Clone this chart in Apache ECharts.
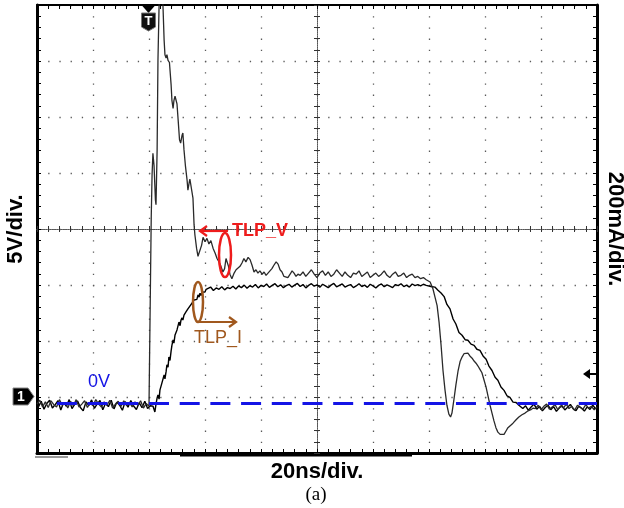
<!DOCTYPE html>
<html><head><meta charset="utf-8">
<script src="https://cdn.jsdelivr.net/npm/echarts@6/dist/echarts.min.js"></script>
<style>html,body{margin:0;padding:0;background:#fff}#c{width:624px;height:508px}</style>
</head><body><div id="c"></div>
<script>
// ---- axis settings (oscilloscope: 20 ns/div, 5 V/div, 200 mA/div, 10 x 8 divisions) ----
const timeMin = -40, timeMax = 160, timeStep = 20;          // ns
const voltMin = -4.464, voltMax = 35.536;                     // V  (8 div x 5 V)
const currMin = -178.6, currMax = 1421.4;                     // mA (8 div x 200 mA)
const xTitle = '20ns/div.', yLeftTitle = '5V/div.', yRightTitle = '200mA/div.';

// ---- voltage trace (TLP_V), V ----
const voltBaseline = [-0.1,0.25,-0.35,0.1,-0.4,0.2,-0.15,-0.35,0.3,-0.2,0.05,-0.45,0.15,-0.25,0.3,-0.35,-0.1,0.2,-0.4,0.0,-0.25,0.3,-0.1,-0.35,0.1,-0.2,0.25,-0.45,-0.1,0.15,-0.3,0.2,-0.25,0.05,-0.35,0.1,-0.2,0.2,-0.45,-0.05,-0.3]; // t=-40..0
const voltPulse = [[0.6,-0.2],[0.8,16.6],[1.1,20.4],[1.4,22.3],[1.8,21.2],[2.3,18.1],[2.5,17.7],[2.9,22.6],[3.2,30.6],[3.6,35.5],[4.1,39.6],[4.6,38.7],[5.0,35.4],[5.4,32.4],[5.7,31.1],[6.1,30.8],[6.4,31.1],[6.8,30.6],[7.3,30.4],[7.9,28.4],[8.2,27.0],[8.6,26.3],[8.9,27.0],[9.3,27.4],[9.6,27.1],[10.0,26.7],[10.4,25.3],[10.9,23.5],[11.3,23.2],[11.8,23.9],[12.1,24.1],[12.5,22.6],[13.0,21.2],[13.6,19.9],[13.9,19.0],[14.3,19.6],[14.6,20.0],[15.2,19.9],[15.7,18.3],[16.1,15.9],[16.4,15.0],[17.0,13.8],[17.5,13.1],[18.2,13.1],[18.8,14.1],[19.3,14.8],[20.0,14.4],[20.7,14.7],[21.4,14.2],[22.1,14.5],[22.9,13.8],[23.6,13.4],[24.3,12.9],[25.0,12.6],[25.7,12.2],[26.4,11.7],[27.0,12.0],[27.5,12.9],[27.9,13.0],[28.4,12.2],[28.9,11.5],[29.6,11.1],[30.4,11.6],[31.1,11.9],[31.8,12.0],[32.5,12.2],[33.2,12.5],[33.9,12.9],[34.6,12.6],[35.4,13.0],[36.1,12.8],[36.8,12.3],[37.5,11.7],[38.2,11.9],[38.9,11.6],[39.6,11.8],[40.4,11.5],[41.1,11.7],[41.8,11.4],[42.5,11.6],[43.2,11.8],[43.9,12.0],[44.6,12.3],[45.4,12.6],[46.1,12.4],[46.8,11.9],[47.5,11.7],[48.2,11.3],[48.9,11.4],[49.6,11.2],[50.4,11.5],[51.1,11.8],[51.8,11.6],[52.5,11.3],[53.2,11.5]];
const voltPlateau = [11.4,11.7,11.3,11.6,11.9,11.5,11.2,11.6,11.8,11.4,11.7,11.3,11.5,11.9,11.6,11.3,11.7,11.4,11.2,11.6,11.5,11.8,11.3,11.5,11.7,11.2,11.4,11.6,11.3,11.5,11.8,11.4,11.2,11.5,11.7,11.3,11.4,11.6,11.2,11.4,11.5,11.2,11.3,11.1,11.2,11.0]; // t=54..99
const voltFall = [[99.6,10.9],[100.4,10.8],[101.4,10.2],[102.1,9.5],[102.9,8.7],[103.6,7.2],[104.3,5.2],[105.0,2.9],[105.7,1.2],[106.4,-0.2],[107.1,-1.0],[107.7,-1.25],[108.2,-0.9],[108.9,0.3],[109.6,1.6],[110.4,2.9],[111.1,3.7],[111.8,4.1],[112.5,4.4],[113.2,4.55],[113.9,4.45],[114.6,4.2],[115.4,4.0],[116.1,3.75],[116.8,3.55],[117.5,3.3],[118.2,3.0],[118.9,2.7],[119.6,2.1],[120.4,1.4],[121.1,0.6],[121.8,-0.2],[122.5,-0.9],[123.2,-1.6],[123.9,-2.2],[124.6,-2.6],[125.4,-2.8],[126.1,-2.7],[126.8,-2.8],[127.5,-2.5],[128.2,-2.2],[128.9,-2.05],[130.0,-1.8],[131.1,-1.5],[132.1,-1.25],[133.2,-1.05],[134.3,-0.9],[135.4,-0.7],[136.4,-0.6],[137.2,-0.45]];
const voltTail = [-0.5,-0.2,-0.6,-0.3,-0.1,-0.55,-0.35,-0.15,-0.6,-0.25,-0.45,-0.1,-0.5,-0.3,-0.65,-0.2,-0.4,-0.55,-0.15,-0.45,-0.3,-0.6,-0.35]; // t=138..160

// ---- current trace (TLP_I), mA ----
const currBaseline = [-14,6,-22,-2,10,-18,-6,8,-25,2,-12,12,-20,-4,7,-16,-28,4,-9,11,-19,-3,9,-24,-1,-13,10,-21,3,-8,-26,5,-15,9,-11,-23,1,-17,6,-20,-10]; // t=-39.5..0.5
const currRise = [[1.4,-11],[2.1,-32],[2.5,-4],[2.9,18],[3.2,29],[3.6,14],[3.9,46],[4.3,52],[4.6,71],[5.0,64],[5.4,100],[5.7,86],[6.1,112],[6.4,136],[6.8,128],[7.1,164],[7.5,152],[7.9,186],[8.2,207],[8.6,225],[8.9,214],[9.3,243],[9.6,236],[10.0,261],[10.4,268],[10.7,289],[11.1,276],[11.4,295],[11.8,304],[12.1,296],[12.5,314],[12.9,308],[13.2,325],[13.6,320],[13.9,336],[14.3,330],[14.6,346],[15.0,341],[15.4,357],[15.7,352],[16.1,368],[16.4,361],[16.8,375],[17.1,370],[17.5,386],[17.9,378],[18.2,392],[18.6,384],[18.9,397],[19.3,392],[19.6,404],[20.0,396],[20.4,406]];
const currPlateau = [408,414,402,411,406,415,404,412,409,417,407,418,412,421,410,419,414,423,411,420,416,425,413,420,426,415,422,412,419,424,414,421,427,416,423,411,420,426,417,422,413,424,418,412,421,427,415,420,425,414,419,423,412,418,426,416,421,413,424,418,411,420,425,415,422,417,412,423,419,426,416,421,414,425,419,423,418,424,420]; // t=21..99
const currFall = [[99.6,423],[100.7,416],[102.1,414],[103.2,403],[104.3,393],[105.4,380],[106.4,352],[107.5,336],[108.6,300],[109.6,282],[110.7,252],[111.8,242],[112.9,226],[113.9,224],[115.0,210],[116.1,206],[117.1,192],[118.2,188],[119.3,168],[120.4,156],[121.4,132],[122.5,116],[123.6,92],[124.6,81],[125.7,57],[126.8,45],[127.9,25],[128.9,20],[130.0,3],[131.1,2],[132.1,-8]];
const currTail = [-6,-20,-10,-26,-14,-4,-22,-12,-28,-16,-8,-24,-13,-30,-18,-9,-25,-15,-5,-21,-27,-11,-19,-29,-14,-23,-8,-20]; // t=132.5..159.5

// ---- assemble [t, value] pairs ----
const voltageTrace = [].concat(
  voltBaseline.map((v, i) => [timeMin + i, v]),
  voltPulse,
  voltPlateau.map((v, i) => [54 + i, v]),
  voltFall,
  voltTail.map((v, i) => [138 + i, v])
);
const currentTrace = [].concat(
  currBaseline.map((v, i) => [timeMin + 0.5 + i, v]),
  currRise,
  currPlateau.map((v, i) => [21 + i, v]),
  currFall,
  currTail.map((v, i) => [132.5 + i, v])
);

const FONT = 'Liberation Sans';
const dotted = {color: '#5a5a5a', width: 1.3, type: [1.3, 9.9]};
const borderTick = {show: true, inside: true, length: 4, lineStyle: {color: '#000', width: 1}};
const borderMinor = {show: true, splitNumber: 5, length: 4, lineStyle: {color: '#000', width: 1}};
const centreLine = {show: true, onZero: false, lineStyle: {color: '#555', width: 1, type: [1, 1.2]}};
const centreTick = {show: true, inside: true, length: 3, lineStyle: {color: '#333', width: 1}};
const centreMinor = {show: true, splitNumber: 5, length: 3, lineStyle: {color: '#333', width: 1}};
const nameStyle = {fontFamily: FONT, fontWeight: 'bold', fontSize: 22, color: '#000'};

const chart = echarts.init(document.getElementById('c'), null, {renderer: 'canvas'});
chart.setOption({
  animation: false,
  backgroundColor: '#fff',
  grid: [
    {left: 37, top: 5, width: 560, height: 448, outerBoundsMode: 'none', containLabel: false},
    {left: 37, top: 5, width: 560, height: 224, outerBoundsMode: 'none', containLabel: false},
    {left: 37, top: 229, width: 560, height: 224, outerBoundsMode: 'none', containLabel: false},
    {left: 37, top: 5, width: 280, height: 448, outerBoundsMode: 'none', containLabel: false},
    {left: 317, top: 5, width: 280, height: 448, outerBoundsMode: 'none', containLabel: false}
  ],
  xAxis: [
    {gridIndex: 0, type: 'value', position: 'bottom', min: timeMin, max: timeMax, interval: timeStep,
     axisLine: {show: true, onZero: false, lineStyle: {color: '#000', width: 3}},
     axisTick: borderTick, minorTick: borderMinor, axisLabel: {show: false},
     splitLine: {show: true, lineStyle: dotted},
     name: xTitle, nameLocation: 'middle', nameGap: 8, nameTextStyle: nameStyle},
    {gridIndex: 0, type: 'value', position: 'top', min: timeMin, max: timeMax, interval: timeStep,
     axisLine: {show: true, onZero: false, lineStyle: {color: '#000', width: 2}},
     axisTick: borderTick, minorTick: borderMinor, axisLabel: {show: false}, splitLine: {show: false}},
    {gridIndex: 1, type: 'value', position: 'bottom', min: 0, max: 10, interval: 1,
     axisLine: centreLine, axisTick: centreTick, minorTick: centreMinor, axisLabel: {show: false}, splitLine: {show: false}},
    {gridIndex: 2, type: 'value', position: 'top', min: 0, max: 10, interval: 1,
     axisLine: centreLine, axisTick: centreTick, minorTick: centreMinor, axisLabel: {show: false}, splitLine: {show: false}},
    {gridIndex: 3, type: 'value', min: 0, max: 1, show: false},
    {gridIndex: 4, type: 'value', min: 0, max: 1, show: false}
  ],
  yAxis: [
    {gridIndex: 0, type: 'value', position: 'left', min: 0, max: 8, interval: 1,
     axisLine: {show: true, onZero: false, lineStyle: {color: '#000', width: 3}},
     axisTick: borderTick, minorTick: borderMinor, axisLabel: {show: false},
     splitLine: {show: true, lineStyle: dotted},
     name: yLeftTitle, nameLocation: 'middle', nameRotate: 90, nameGap: 10, nameTextStyle: nameStyle},
    {gridIndex: 0, type: 'value', position: 'right', min: 0, max: 8, interval: 1,
     axisLine: {show: true, onZero: false, lineStyle: {color: '#000', width: 3}},
     axisTick: borderTick, minorTick: borderMinor, axisLabel: {show: false}, splitLine: {show: false},
     name: yRightTitle, nameLocation: 'middle', nameRotate: -90, nameGap: 7, nameTextStyle: nameStyle},
    {gridIndex: 0, type: 'value', min: voltMin, max: voltMax, show: false},
    {gridIndex: 0, type: 'value', min: currMin, max: currMax, show: false},
    {gridIndex: 1, type: 'value', min: 0, max: 1, show: false},
    {gridIndex: 2, type: 'value', min: 0, max: 1, show: false},
    {gridIndex: 3, type: 'value', position: 'right', min: 0, max: 8, interval: 1,
     axisLine: centreLine, axisTick: centreTick, minorTick: centreMinor, axisLabel: {show: false}, splitLine: {show: false}},
    {gridIndex: 4, type: 'value', position: 'left', min: 0, max: 8, interval: 1,
     axisLine: centreLine, axisTick: centreTick, minorTick: centreMinor, axisLabel: {show: false}, splitLine: {show: false}}
  ],
  series: [
    {name: 'TLP_I', type: 'line', xAxisIndex: 0, yAxisIndex: 3, data: currentTrace,
     showSymbol: false, symbol: 'none', clip: true, z: 3,
     lineStyle: {color: '#000', width: 1.4}},
    {name: 'TLP_V', type: 'line', xAxisIndex: 0, yAxisIndex: 2, data: voltageTrace,
     showSymbol: false, symbol: 'none', clip: true, z: 3,
     lineStyle: {color: '#2a2a2a', width: 1.3},
     markLine: {silent: true, symbol: ['none', 'none'], animation: false, z: 6,
       label: {show: false},
       lineStyle: {color: '#1414e6', width: 3, type: [20, 10.7]},
       data: [[{coord: [-32.9, 0]}, {coord: [timeMax, 0]}]]}}
  ],
  graphic: [
    // trigger marker "T"
    {type: 'polygon', z: 20, shape: {points: [[141.5, 5], [155.5, 5], [148.5, 13]]}, style: {fill: '#000'}},
    {type: 'polygon', z: 20, shape: {points: [[141.5, 13], [155.5, 13], [155.5, 27], [148.5, 31], [141.5, 27]]}, style: {fill: '#111', stroke: '#777', lineWidth: 1}},
    {type: 'text', z: 21, x: 148.5, y: 21, style: {text: 'T', fill: '#fff', font: 'bold 13px ' + FONT, align: 'center', verticalAlign: 'middle'}},
    // channel 1 marker
    {type: 'polygon', z: 20, shape: {points: [[13, 388], [28, 388], [34, 396.5], [28, 405], [13, 405]]}, style: {fill: '#000', stroke: '#888', lineWidth: 1}},
    {type: 'text', z: 21, x: 21, y: 397, style: {text: '1', fill: '#fff', font: 'bold 14px ' + FONT, align: 'center', verticalAlign: 'middle'}},
    // right-side arrow marker
    {type: 'polygon', z: 20, shape: {points: [[583, 374], [590, 369], [590, 379]]}, style: {fill: '#000'}},
    {type: 'line', z: 20, shape: {x1: 589, y1: 374, x2: 596, y2: 374}, style: {stroke: '#000', lineWidth: 2}},
    // bottom decorations
    {type: 'line', z: 19, shape: {x1: 35, y1: 457, x2: 68, y2: 457}, style: {stroke: '#999', lineWidth: 2}},
    {type: 'line', z: 19, shape: {x1: 180, y1: 455.5, x2: 412, y2: 455.5}, style: {stroke: '#000', lineWidth: 2}},
    // TLP_V annotation
    {type: 'ellipse', z: 20, shape: {cx: 225, cy: 255, rx: 6, ry: 22}, style: {fill: 'none', stroke: '#ee1c1c', lineWidth: 2.5}},
    {type: 'line', z: 20, shape: {x1: 228, y1: 231, x2: 200, y2: 231}, style: {stroke: '#ee1c1c', lineWidth: 2.2}},
    {type: 'polyline', z: 20, shape: {points: [[207, 226], [200, 231], [207, 236]]}, style: {stroke: '#ee1c1c', lineWidth: 2.2, fill: 'none'}},
    {type: 'text', z: 21, x: 232, y: 231, style: {text: 'TLP_V', fill: '#ee1c1c', font: 'bold 18px ' + FONT, align: 'left', verticalAlign: 'middle'}},
    // TLP_I annotation
    {type: 'ellipse', z: 20, shape: {cx: 198, cy: 302, rx: 5, ry: 20}, style: {fill: 'none', stroke: '#a0581e', lineWidth: 2.5}},
    {type: 'line', z: 20, shape: {x1: 198, y1: 322, x2: 236, y2: 322}, style: {stroke: '#a0581e', lineWidth: 2.2}},
    {type: 'polyline', z: 20, shape: {points: [[229, 317], [236, 322], [229, 327]]}, style: {stroke: '#a0581e', lineWidth: 2.2, fill: 'none'}},
    {type: 'text', z: 21, x: 194, y: 338, style: {text: 'TLP_I', fill: '#a0581e', font: '18px ' + FONT, align: 'left', verticalAlign: 'middle'}},
    // 0V label
    {type: 'text', z: 21, x: 88, y: 382, style: {text: '0V', fill: '#1414e6', font: '18px ' + FONT, align: 'left', verticalAlign: 'middle'}},
    // caption
    {type: 'text', z: 21, x: 316, y: 495, style: {text: '(a)', fill: '#000', font: '19px "Liberation Serif"', align: 'center', verticalAlign: 'middle'}}
  ]
});
</script></body></html>
